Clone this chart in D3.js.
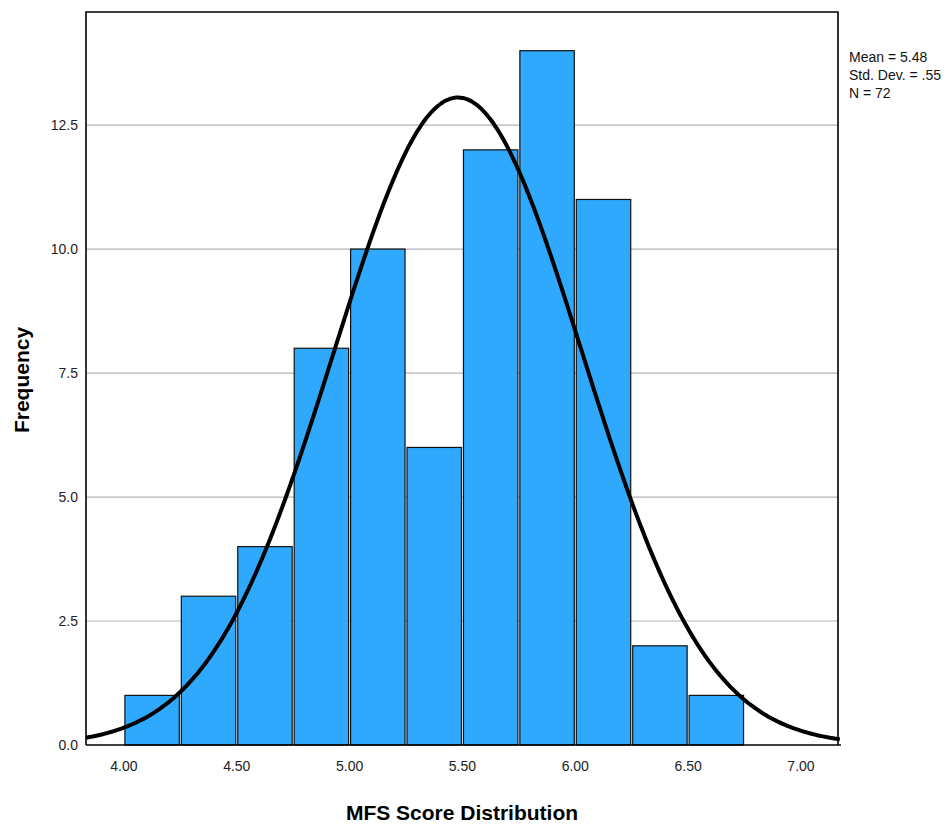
<!DOCTYPE html>
<html>
<head>
<meta charset="utf-8">
<script src="https://cdn.jsdelivr.net/npm/d3@7"></script>
<style>
  body { margin: 0; background: #fff; }
  svg text { font-family: "Liberation Sans Narrow", "Arial Narrow", "Liberation Sans", Arial, sans-serif; }
</style>
</head>
<body>
<svg id="chart" width="947" height="826"></svg>
<script>
// bins (lower edges, width .25) and counts
const binStarts = [4.00, 4.25, 4.50, 4.75, 5.00, 5.25, 5.50, 5.75, 6.00, 6.25, 6.50];
const counts    = [1, 3, 4, 8, 10, 6, 12, 14, 11, 2, 1];
const binWidth  = 0.25;
const xTicks = [4.0, 4.5, 5.0, 5.5, 6.0, 6.5, 7.0];
const yTicks = [0, 2.5, 5.0, 7.5, 10.0, 12.5];
const stats = { mean: 5.48, sd: 0.55, n: 72 };
const statLabels = ["Mean = 5.48", "Std. Dev. = .55", "N = 72"];

const svg = d3.select("#chart");
const m = { left: 86, top: 12, right: 838, bottom: 745 };

const x = d3.scaleLinear().domain([3.832, 7.164]).range([m.left, m.right]);
const y = d3.scaleLinear().domain([0, 14.78]).range([m.bottom, m.top]);

// grid lines
svg.append("g").selectAll("line").data(yTicks.filter(d => d > 0)).enter()
    .append("line")
    .attr("x1", m.left).attr("x2", m.right)
    .attr("y1", d => y(d)).attr("y2", d => y(d))
    .attr("stroke", "#b4b4b4").attr("stroke-width", 1.2);

// bars
svg.append("g").selectAll("rect").data(binStarts).enter()
    .append("rect")
    .attr("x", d => x(d) + 1)
    .attr("width", d => x(d + binWidth) - x(d) - 2)
    .attr("y", (d, i) => y(counts[i]))
    .attr("height", (d, i) => y(0) - y(counts[i]))
    .attr("fill", "#2fa9fd")
    .attr("stroke", "#111").attr("stroke-width", 1.2);

// frame
svg.append("path")
    .attr("d", `M${m.left},${m.bottom}V${m.top}H${m.right}V${m.bottom}`)
    .attr("fill", "none").attr("stroke", "#000").attr("stroke-width", 1.6);
svg.append("line")
    .attr("x1", m.left).attr("x2", m.right + 3)
    .attr("y1", m.bottom).attr("y2", m.bottom)
    .attr("stroke", "#000").attr("stroke-width", 1.6);

// normal curve for the stated mean / sd, scaled to counts per bin
const scale = stats.n * binWidth / (stats.sd * Math.sqrt(2 * Math.PI));
const curveX = d3.range(3.832, 7.175, 0.01);
const line = d3.line()
    .x(d => x(d))
    .y(d => y(scale * Math.exp(-0.5 * Math.pow((d - stats.mean) / stats.sd, 2))))
    .curve(d3.curveBasis);
svg.append("path").datum(curveX)
    .attr("d", line)
    .attr("fill", "none").attr("stroke", "#000").attr("stroke-width", 4);

// x tick labels
svg.append("g").selectAll("text").data(xTicks).enter()
    .append("text")
    .attr("x", d => x(d)).attr("y", 771)
    .attr("text-anchor", "middle")
    .attr("font-size", 14).attr("fill", "#222")
    .text(d => d.toFixed(2));

// y tick labels
svg.append("g").selectAll("text").data(yTicks).enter()
    .append("text")
    .attr("x", 78).attr("y", d => y(d) + 5)
    .attr("text-anchor", "end")
    .attr("font-size", 14).attr("fill", "#222")
    .text(d => d.toFixed(1));

// axis titles
svg.append("text")
    .attr("transform", "translate(29,380) rotate(-90)")
    .attr("text-anchor", "middle")
    .attr("font-size", 21).attr("font-weight", "bold")
    .style("font-family", "'Liberation Sans', Arial, sans-serif")
    .text("Frequency");
svg.append("text")
    .attr("x", 462).attr("y", 820)
    .attr("text-anchor", "middle")
    .attr("font-size", 21).attr("font-weight", "bold")
    .text("MFS Score Distribution");

// stats legend
svg.append("g").selectAll("text").data(statLabels).enter()
    .append("text")
    .attr("x", 849).attr("y", (d, i) => 62 + i * 18)
    .attr("font-size", 14).attr("fill", "#111")
    .text(d => d);
</script>
</body>
</html>
